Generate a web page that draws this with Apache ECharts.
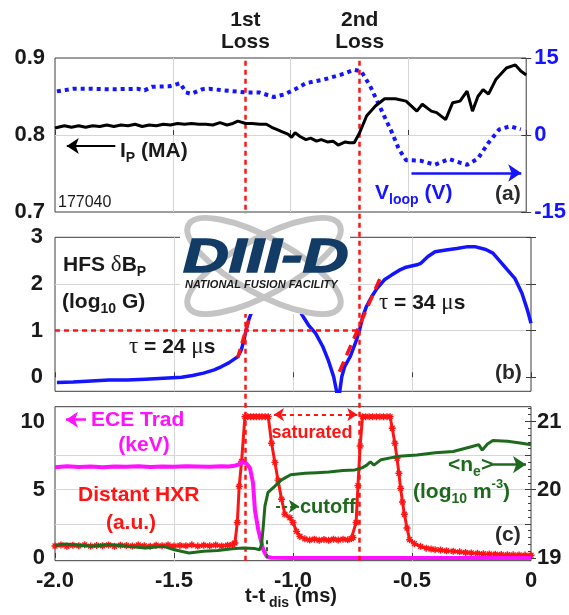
<!DOCTYPE html>
<html>
<head>
<meta charset="utf-8">
<script src="https://cdn.jsdelivr.net/npm/echarts@6/dist/echarts.min.js"></script>
<style>
  html, body { margin: 0; padding: 0; background: #fff; }
  #chart { width: 569px; height: 615px; }
</style>
</head>
<body>
<div id="chart"></div>
<script>
// Time relative to disruption, t - t_dis (ms)
const xTicks = [-2, -1.5, -1, -0.5, 0];
const lossTimes = [-1.2, -0.72];
const lossNames = ['1st\nLoss', '2nd\nLoss'];

// (a) plasma current Ip (MA)
const ipData = [
  [-2.0,0.809],[-1.96,0.812],[-1.93,0.810],[-1.90,0.812],[-1.87,0.810],[-1.84,0.812],[-1.81,0.811],
  [-1.78,0.813],[-1.75,0.811],[-1.72,0.813],[-1.69,0.812],[-1.66,0.814],[-1.63,0.811],[-1.60,0.813],
  [-1.57,0.812],[-1.54,0.814],[-1.51,0.813],[-1.48,0.815],[-1.45,0.814],[-1.42,0.815],[-1.39,0.814],
  [-1.36,0.814],[-1.33,0.813],[-1.30,0.816],[-1.27,0.813],[-1.245,0.815],[-1.224,0.818],[-1.19,0.815],
  [-1.163,0.815],[-1.13,0.814],[-1.103,0.814],[-1.08,0.810],[-1.057,0.807],[-1.035,0.804],[-1.011,0.801],
  [-0.996,0.797],[-0.981,0.803],[-0.96,0.798],[-0.935,0.794],[-0.915,0.796],[-0.89,0.792],[-0.87,0.794],
  [-0.844,0.791],[-0.82,0.792],[-0.798,0.787],[-0.768,0.791],[-0.75,0.790],[-0.73,0.790],[-0.707,0.803],
  [-0.677,0.825],[-0.639,0.838],[-0.601,0.847],[-0.555,0.847],[-0.51,0.844],[-0.464,0.831],[-0.441,0.840],
  [-0.403,0.831],[-0.38,0.829],[-0.342,0.820],[-0.312,0.842],[-0.281,0.844],[-0.251,0.857],[-0.228,0.831],
  [-0.205,0.850],[-0.183,0.859],[-0.160,0.853],[-0.129,0.872],[-0.084,0.887],[-0.046,0.891],[-0.023,0.883],
  [0,0.878]
];
// (a) loop voltage (V)
const vloopData = [
  [-1.992,8.5],[-1.924,9.0],[-1.848,9.0],[-1.772,8.9],[-1.65,9.0],[-1.62,8.7],[-1.589,9.4],[-1.513,9.5],
  [-1.468,10.1],[-1.445,8.3],[-1.422,8.0],[-1.376,8.9],[-1.346,9.0],[-1.285,8.7],[-1.194,8.3],[-1.133,8.3],
  [-1.072,7.4],[-1.027,7.9],[-0.981,8.9],[-0.935,10.1],[-0.859,10.8],[-0.783,11.8],[-0.73,12.7],[-0.70,12.4],
  [-0.662,9.5],[-0.616,5.0],[-0.57,0.5],[-0.54,-2.8],[-0.51,-4.9],[-0.449,-5.0],[-0.388,-5.8],[-0.327,-4.7],
  [-0.281,-5.4],[-0.251,-5.8],[-0.205,-4.6],[-0.16,-1.5],[-0.114,1.1],[-0.068,1.7],[-0.023,1.1]
];

// (b) HFS dBp (log10 G), visible before and after the off-scale interval
const hfsBefore = [
  [-1.992,-0.11],[-1.924,-0.10],[-1.848,-0.08],[-1.772,-0.06],[-1.696,-0.06],[-1.62,-0.04],[-1.544,-0.02],
  [-1.468,0.0],[-1.422,0.04],[-1.376,0.09],[-1.331,0.16],[-1.30,0.23],[-1.27,0.31],[-1.247,0.39],
  [-1.232,0.44],[-1.217,0.59],[-1.206,0.80],[-1.197,1.01],[-1.186,1.23],[-1.176,1.37]
];
const hfsAfter = [
  [-0.966,1.37],[-0.935,1.12],[-0.905,0.94],[-0.875,0.66],[-0.852,0.37],[-0.829,0.01],[-0.809,-0.5],
  [-0.795,0.01],[-0.783,0.23],[-0.76,0.44],[-0.738,0.73],[-0.722,0.98],[-0.707,1.3],[-0.692,1.51],
  [-0.669,1.73],[-0.646,1.91],[-0.616,2.09],[-0.586,2.19],[-0.555,2.29],[-0.525,2.36],[-0.479,2.41],
  [-0.464,2.44],[-0.433,2.59],[-0.403,2.69],[-0.357,2.73],[-0.312,2.76],[-0.266,2.80],[-0.236,2.80],
  [-0.19,2.74],[-0.16,2.66],[-0.129,2.48],[-0.099,2.30],[-0.068,2.12],[-0.038,1.80],[-0.015,1.44],[0,1.16]
];
// exponential growth fits (tau = 24 us, tau = 34 us)
const fitFirst = [[-1.232,0.42],[-1.180,1.33]];
const fitSecond = [[-0.805,0.12],[-0.631,2.16]];
const hfsTicks = [0, 1, 2, 3];

// (c) distant HXR (a.u.)
const hxrData = [
  [-2.0,0.88],[-1.975,0.95],[-1.95,0.86],[-1.925,0.93],[-1.9,0.9],[-1.875,0.96],[-1.85,0.87],[-1.825,0.92],
  [-1.8,0.9],[-1.775,0.95],[-1.75,0.86],[-1.725,0.93],[-1.7,0.91],[-1.675,0.88],[-1.65,0.95],[-1.625,0.9],
  [-1.6,0.86],[-1.575,0.93],[-1.55,0.9],[-1.525,0.95],[-1.5,0.88],[-1.475,0.92],[-1.45,0.9],[-1.425,0.96],
  [-1.4,0.87],[-1.375,0.93],[-1.35,0.9],[-1.325,0.95],[-1.3,0.88],[-1.275,0.93],[-1.255,0.98],
  [-1.244,1.1],[-1.234,2.6],[-1.226,5.25],[-1.216,7.07],[-1.202,10.35],
  [-1.19,10.35],[-1.178,10.35],[-1.166,10.35],[-1.154,10.35],[-1.142,10.35],[-1.13,10.35],[-1.117,10.35],[-1.104,10.35],
  [-1.09,8.4],[-1.076,7.0],[-1.063,5.7],[-1.048,4.3],[-1.034,3.2],[-1.013,2.95],[-1.0,2.6],[-0.985,1.95],
  [-0.971,1.58],[-0.95,1.4],[-0.93,1.32],[-0.91,1.38],[-0.89,1.3],[-0.87,1.36],[-0.85,1.3],[-0.83,1.37],
  [-0.81,1.32],[-0.79,1.38],[-0.77,1.33],[-0.755,1.42],
  [-0.748,1.5],[-0.735,2.6],[-0.727,5.3],[-0.718,8.2],[-0.708,10.35],
  [-0.695,10.35],[-0.68,10.35],[-0.665,10.35],[-0.65,10.35],[-0.635,10.35],[-0.62,10.35],[-0.605,10.35],[-0.592,10.35],
  [-0.583,9.5],[-0.572,8.4],[-0.563,7.3],[-0.555,6.2],[-0.548,5.1],[-0.54,4.1],[-0.532,3.2],[-0.521,2.2],
  [-0.51,1.34],[-0.49,1.05],[-0.464,0.85],[-0.44,0.72],[-0.42,0.66],[-0.403,0.61],[-0.38,0.58],[-0.355,0.53],
  [-0.327,0.49],[-0.3,0.45],[-0.275,0.4],[-0.251,0.37],[-0.225,0.34],[-0.2,0.31],[-0.175,0.29],[-0.15,0.27],
  [-0.125,0.25],[-0.099,0.24],[-0.075,0.23],[-0.05,0.22],[-0.025,0.21],[0,0.2]
];
// (c) ECE radiation temperature (keV)
const eceData = [
  [-2.0,6.65],[-1.95,6.72],[-1.9,6.66],[-1.85,6.7],[-1.8,6.64],[-1.75,6.7],[-1.7,6.68],[-1.65,6.72],
  [-1.6,6.66],[-1.55,6.7],[-1.5,6.68],[-1.45,6.72],[-1.4,6.7],[-1.35,6.68],[-1.3,6.72],[-1.27,6.7],
  [-1.24,6.78],[-1.225,6.88],[-1.21,7.05],[-1.195,6.9],[-1.181,6.6],[-1.168,5.5],[-1.16,3.5],[-1.146,2.07],
  [-1.139,1.58],[-1.125,0.6],[-1.11,0.1],[-1.09,0.02],[-1.0,0.0],[-0.8,0.0],[-0.6,0.0],[-0.4,0.0],
  [-0.2,0.0],[0,0.0]
];
// (c) line-averaged density <ne> (log10 m^-3)
const neData = [
  [-2.0,19.186],[-1.954,19.204],[-1.848,19.17],[-1.772,19.196],[-1.696,19.17],[-1.62,19.146],[-1.544,19.17],
  [-1.498,19.12],[-1.437,19.074],[-1.376,19.098],[-1.316,19.108],[-1.255,19.136],[-1.209,19.146],
  [-1.163,19.14],[-1.14,19.12],[-1.132,19.2],[-1.125,19.46],[-1.118,19.76],[-1.105,19.96],[-1.077,20.05],
  [-1.05,20.14],[-1.01,20.22],[-0.95,20.24],[-0.9,20.25],[-0.85,20.26],[-0.79,20.28],[-0.74,20.29],
  [-0.71,20.32],[-0.69,20.36],[-0.675,20.41],[-0.66,20.36],[-0.63,20.44],[-0.586,20.47],[-0.555,20.49],
  [-0.479,20.51],[-0.403,20.54],[-0.327,20.56],[-0.251,20.63],[-0.22,20.66],[-0.205,20.58],[-0.183,20.67],
  [-0.16,20.72],[-0.099,20.71],[-0.038,20.68],[0,20.66]
];
const leftTicksC = [0, 5, 10];
const rightTicksC = [19, 20, 21];
const rightGridC = [19, 19.5, 20, 20.5, 21];

const FONT = '"Liberation Sans", Arial, Helvetica, sans-serif';
const SERIF = '"Liberation Serif", "DejaVu Serif", serif';
const INK = '#1a1a1a';
const FRAME = '#3c3c3c';
const GRIDC = '#d6d6d6';
const RED = '#ff1414';
const BLUE = '#1414ff';
const MAGENTA = '#ff10ff';
const GREEN = '#1d6a1d';
const NAVY = '#123c66';

const PLOT_LEFT = 55, PLOT_W = 476, PANEL_H = 154;
const tops = [58, 237.3, 406.7];

function timeAxis(gridIndex, showLabels) {
  return {
    type: 'value', gridIndex, min: -2, max: 0, interval: 0.5,
    axisLine: { show: false },
    axisTick: { show: true, inside: true, length: 5, lineStyle: { color: FRAME } },
    splitLine: { show: true, showMinLine: false, showMaxLine: false, lineStyle: { color: GRIDC, width: 1 } },
    axisLabel: {
      show: showLabels, fontFamily: FONT, fontSize: 22, fontWeight: 'bold', color: INK, margin: 9,
      formatter: v => (v === 0 ? '0' : v.toFixed(1))
    }
  };
}
const tickLabel = (color) => ({ fontFamily: FONT, fontSize: 22, fontWeight: 'bold', color });

function richSet(fill, size) {
  const s = size || 21;
  return {
    m: { fontFamily: FONT, fontSize: s, fontWeight: 'bold', fill, lineHeight: 28 },
    s: { fontFamily: FONT, fontSize: Math.round(s * 0.68), fontWeight: 'bold', fill, verticalAlign: 'bottom' },
    u: { fontFamily: FONT, fontSize: Math.round(s * 0.62), fontWeight: 'bold', fill, verticalAlign: 'top' },
    g: { fontFamily: SERIF, fontSize: s + 2, fill, lineHeight: 28 }
  };
}
function note(x, y, text, fill, opts) {
  const o = opts || {};
  return {
    type: 'text', x, y, z: 60,
    style: {
      text, rich: richSet(fill, o.size), align: o.align || 'left', verticalAlign: 'middle'
    }
  };
}

const ASTERISK = 'path://M5,0L5,10M0,5L10,5M1.5,1.5L8.5,8.5M1.5,8.5L8.5,1.5';

const chart = echarts.init(document.getElementById('chart'), null, { renderer: 'canvas' });

const option = {
  backgroundColor: '#fff',
  animation: false,
  grid: [
    { left: PLOT_LEFT, width: PLOT_W, top: tops[0], height: PANEL_H, show: true, borderColor: FRAME, borderWidth: 1, backgroundColor: '#fff' },
    { left: PLOT_LEFT, width: PLOT_W, top: tops[1], height: PANEL_H, show: true, borderColor: FRAME, borderWidth: 1, backgroundColor: '#fff' },
    { left: PLOT_LEFT, width: PLOT_W, top: tops[2], height: PANEL_H, show: true, borderColor: FRAME, borderWidth: 1, backgroundColor: '#fff' },
    { left: PLOT_LEFT, width: PLOT_W, top: tops[0], height: tops[2] + PANEL_H - tops[0], show: false }
  ],
  xAxis: [
    timeAxis(0, false),
    timeAxis(1, false),
    timeAxis(2, true),
    { type: 'value', gridIndex: 3, min: -2, max: 0, show: false }
  ],
  yAxis: [
    { type: 'value', gridIndex: 0, min: 0.7, max: 0.9, interval: 0.1,
      axisLine: { show: false }, axisTick: { inside: true, length: 5, lineStyle: { color: FRAME } },
      splitLine: { show: true, showMinLine: false, showMaxLine: false, lineStyle: { color: GRIDC } },
      axisLabel: Object.assign(tickLabel(INK), { margin: 10, formatter: v => v.toFixed(1) }) },
    { type: 'value', gridIndex: 0, position: 'right', min: -15, max: 15, interval: 15,
      axisLine: { show: false }, axisTick: { inside: true, length: 5, lineStyle: { color: FRAME } },
      splitLine: { show: false },
      axisLabel: Object.assign(tickLabel(BLUE), { margin: 8 }) },
    { type: 'value', gridIndex: 1, min: -0.3, max: 3,
      axisLine: { show: false },
      axisTick: { inside: true, length: 5, customValues: hfsTicks, lineStyle: { color: FRAME } },
      splitLine: { show: true, showMinLine: false, showMaxLine: false, lineStyle: { color: GRIDC } },
      axisLabel: Object.assign(tickLabel(INK), { margin: 12, customValues: hfsTicks }) },
    { type: 'value', gridIndex: 1, position: 'right', min: -0.3, max: 3,
      axisLine: { show: false },
      axisTick: { inside: true, length: 5, customValues: hfsTicks, lineStyle: { color: FRAME } },
      splitLine: { show: false }, axisLabel: { show: false } },
    { type: 'value', gridIndex: 2, min: -0.2, max: 11.08,
      axisLine: { show: false },
      axisTick: { inside: true, length: 5, customValues: leftTicksC, lineStyle: { color: FRAME } },
      splitLine: { show: false },
      axisLabel: Object.assign(tickLabel(INK), { margin: 10, customValues: leftTicksC }) },
    { type: 'value', gridIndex: 2, position: 'right', min: 18.96, max: 21.216,
      axisLine: { show: false },
      axisTick: { inside: true, length: 6, customValues: rightGridC, lineStyle: { color: FRAME } },
      minorTick: { show: true, splitNumber: 5, length: 3, lineStyle: { color: FRAME } },
      splitLine: { show: true, showMinLine: false, showMaxLine: false, lineStyle: { color: GRIDC } },
      axisLabel: Object.assign(tickLabel(INK), { margin: 6, customValues: rightTicksC }) },
    { type: 'value', gridIndex: 3, min: 0, max: 1, show: false }
  ],
  series: [
    // (a)
    { name: 'Ip', type: 'line', xAxisIndex: 0, yAxisIndex: 0, data: ipData, showSymbol: false,
      lineStyle: { color: '#000', width: 3 }, z: 5,
      markLine: { silent: true, symbol: ['none', 'arrow'], symbolSize: 12, label: { show: false },
        lineStyle: { color: '#000', width: 2, type: 'solid' },
        data: [[{ coord: [-1.744, 0.7857] }, { coord: [-1.95, 0.7857] }]] } },
    { name: 'Vloop', type: 'line', xAxisIndex: 0, yAxisIndex: 1, data: vloopData, showSymbol: false,
      lineStyle: { color: BLUE, width: 4, type: [4, 4], cap: 'butt' }, z: 4,
      markLine: { silent: true, symbol: ['none', 'arrow'], symbolSize: 13, label: { show: false },
        lineStyle: { color: BLUE, width: 2.5, type: 'solid' },
        data: [[{ coord: [-0.487, -7.4] }, { coord: [-0.021, -7.4] }]] } },
    // (b)
    { name: 'HFS dBp', type: 'line', xAxisIndex: 1, yAxisIndex: 2, data: hfsBefore, showSymbol: false,
      lineStyle: { color: BLUE, width: 3.5 }, z: 4,
      markLine: { silent: true, symbol: 'none', label: { show: false },
        lineStyle: { color: RED, width: 2.5, type: [5, 4] },
        data: [[{ coord: [-2, 1] }, { coord: [lossTimes[1], 1] }]] } },
    { name: 'HFS dBp late', type: 'line', xAxisIndex: 1, yAxisIndex: 2, data: hfsAfter, showSymbol: false,
      lineStyle: { color: BLUE, width: 3.5 }, z: 4 },
    { name: 'fit 1', type: 'line', xAxisIndex: 1, yAxisIndex: 2, data: fitFirst, showSymbol: false,
      lineStyle: { color: RED, width: 3.5, type: [9, 6] }, z: 6 },
    { name: 'fit 2', type: 'line', xAxisIndex: 1, yAxisIndex: 2, data: fitSecond, showSymbol: false,
      lineStyle: { color: RED, width: 3.5, type: [11, 7] }, z: 6 },
    // (c)
    { name: 'HXR', type: 'line', xAxisIndex: 2, yAxisIndex: 4, data: hxrData,
      showSymbol: true, symbol: ASTERISK, symbolSize: 7,
      itemStyle: { color: RED, borderColor: RED, borderWidth: 1.4 },
      lineStyle: { color: RED, width: 3 }, z: 3,
      markLine: { silent: true, label: { show: false },
        data: [
          [{ coord: [-1.08, 10.5], symbol: 'arrow', symbolSize: 10,
             lineStyle: { color: RED, width: 2, type: [4, 4] } },
           { coord: [-0.73, 10.5], symbol: 'arrow', symbolSize: 10 }],
          [{ coord: [-1.071, 3.78], symbol: 'none',
             lineStyle: { color: GREEN, width: 2, type: [4, 3] } },
           { coord: [-0.975, 3.78], symbol: 'arrow', symbolSize: 10 }],
          [{ coord: [-1.11, 1.3], symbol: 'none',
             lineStyle: { color: GREEN, width: 2, type: [4, 3] } },
           { coord: [-1.11, -0.2], symbol: 'none' }]
        ] } },
    { name: 'ECE', type: 'line', xAxisIndex: 2, yAxisIndex: 4, data: eceData, showSymbol: false,
      lineStyle: { color: MAGENTA, width: 4 }, z: 4,
      markLine: { silent: true, symbol: ['none', 'arrow'], symbolSize: 12, label: { show: false },
        lineStyle: { color: MAGENTA, width: 2.5, type: 'solid' },
        data: [[{ coord: [-1.87, 10.13] }, { coord: [-1.954, 10.13] }]] } },
    { name: 'ne', type: 'line', xAxisIndex: 2, yAxisIndex: 5, data: neData, showSymbol: false,
      lineStyle: { color: GREEN, width: 3 }, z: 5,
      markLine: { silent: true, symbol: ['none', 'arrow'], symbolSize: 13, label: { show: false },
        lineStyle: { color: GREEN, width: 2.5, type: 'solid' },
        data: [[{ coord: [-0.168, 20.368] }, { coord: [-0.021, 20.368] }]] } },
    // loss times across all panels
    { name: 'loss', type: 'line', xAxisIndex: 3, yAxisIndex: 6, data: [], z: 7,
      markLine: { silent: true, symbol: 'none',
        lineStyle: { color: RED, width: 2.5, type: [5, 4] },
        label: { show: true, position: 'end', formatter: '{b}', distance: 5,
          fontFamily: FONT, fontSize: 21, fontWeight: 'bold', color: INK, lineHeight: 22 },
        data: lossTimes.map((t, i) => ({ xAxis: t, name: lossNames[i] })) } }
  ],
  graphic: [
    // panel (a) notes
    note(120, 151, '{m|I}{s|P}{m| (MA)}', INK),
    note(375, 193, '{m|V}{s|loop}{m| (V)}', BLUE),
    note(495, 194, '{m|(a)}', '#2a2a2a'),
    { type: 'text', x: 58, y: 203, z: 60,
      style: { text: '177040', fontFamily: FONT, fontSize: 16, fill: INK, verticalAlign: 'middle' } },
    // panel (b) notes
    note(63, 265, '{m|HFS }{g|δ}{m|B}{s|P}', INK),
    note(62, 302, '{m|(log}{s|10}{m| G)}', INK),
    note(129, 347, '{g|τ}{m| = 24 }{g|μ}{m|s}', INK),
    note(379, 303, '{g|τ}{m| = 34 }{g|μ}{m|s}', INK),
    note(495, 373, '{m|(b)}', '#2a2a2a'),
    // panel (c) notes
    note(91, 420, '{m|ECE Trad}', MAGENTA),
    note(144, 445, '{m|(keV)}', MAGENTA, { align: 'center' }),
    note(78, 495, '{m|Distant HXR}', RED),
    note(131, 523, '{m|(a.u.)}', RED, { align: 'center' }),
    note(312, 433, '{m|saturated}', RED, { align: 'center', size: 18 }),
    note(300, 507, '{m|cutoff}', GREEN, { size: 20 }),
    note(448, 465, '{m|<n}{s|e}{m|>}', GREEN),
    note(413, 492, '{m|(log}{s|10}{m| m}{u|-3}{m|)}', GREEN),
    note(495, 535, '{m|(c)}', '#2a2a2a'),
    // x axis title
    note(291, 596, '{m|t-t}{s| dis}{m| (ms)}', INK, { align: 'center', size: 20 }),
    // facility logo
    { type: 'group', z: 90, children: [
      { type: 'rect', shape: { x: 180, y: 214, width: 170, height: 100 }, style: { fill: '#fff' }, z: 90 },
      { type: 'ellipse', x: 264, y: 266, rotation: 0.5, shape: { cx: 0, cy: 0, rx: 86, ry: 28 },
        style: { fill: 'none', stroke: '#c4c4c4', lineWidth: 6 }, z: 91 },
      { type: 'ellipse', x: 264, y: 266, rotation: -0.5, shape: { cx: 0, cy: 0, rx: 86, ry: 28 },
        style: { fill: 'none', stroke: '#c4c4c4', lineWidth: 6 }, z: 91 },
      { type: 'text', x: 183, y: 259, scaleX: 1.32, z: 92,
        style: { text: 'DIII-D', fontFamily: FONT, fontSize: 48, fontWeight: 900, fontStyle: 'italic',
          fill: NAVY, stroke: NAVY, lineWidth: 1.5, verticalAlign: 'middle', align: 'left' } },
      { type: 'text', x: 185, y: 285, z: 92,
        style: { text: 'NATIONAL FUSION FACILITY', fontFamily: FONT, fontSize: 11, fontWeight: 'bold',
          fontStyle: 'italic', fill: INK, verticalAlign: 'middle', align: 'left' } }
    ] }
  ]
};

chart.setOption(option);
</script>
</body>
</html>
